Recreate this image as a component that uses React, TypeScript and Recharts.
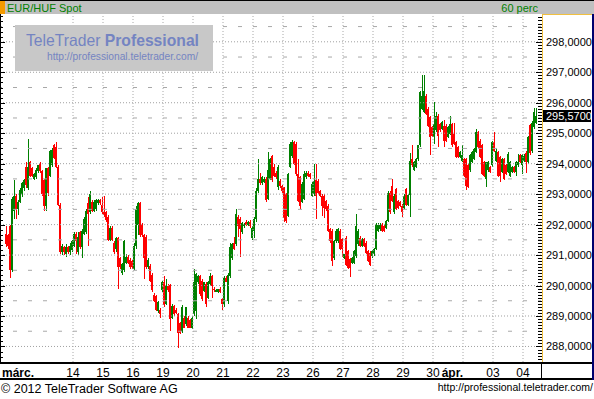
import React from 'react';
import { ComposedChart, Bar, XAxis, YAxis, ReferenceLine } from 'recharts';

// ---------- data (EUR/HUF Spot, 60 perc candles) ----------
const opens = [
  291.70, 291.65, 291.95, 290.50, 292.45, 292.95, 292.50, 292.75, 293.00, 293.20,
  293.90, 293.20, 294.05, 293.85, 293.50, 293.55, 293.75, 294.00, 293.75, 293.45,
  292.60, 293.85, 293.60, 293.95, 294.60, 294.55, 293.90, 292.65, 291.10, 291.25,
  291.05, 291.25, 291.10, 291.15, 291.31, 291.69, 291.10, 291.75, 291.25, 291.70,
  291.75, 292.70, 292.40, 292.75, 292.45, 292.50, 292.70, 292.80, 292.65, 292.40,
  292.40, 292.25, 291.50, 291.90, 291.40, 291.20, 291.55, 290.90, 290.40, 290.50,
  290.75, 290.95, 290.85, 290.80, 290.55, 291.30, 292.00, 292.72, 292.00, 291.65,
  291.60, 290.60, 290.65, 290.35, 289.70, 289.65, 289.17, 289.20, 289.85, 290.10,
  289.40, 289.99, 290.02, 288.95, 289.33, 289.20, 289.06, 288.78, 288.51, 288.95,
  288.73, 288.95, 288.87, 288.62, 289.06, 289.17, 290.10, 290.30, 290.15, 289.82,
  290.05, 289.60, 290.05, 290.30, 289.90, 289.80, 289.80, 289.88, 289.55, 289.40,
  290.25, 289.50, 290.30, 290.90, 291.40, 291.35, 292.25, 292.20, 291.75, 291.95,
  292.10, 292.00, 292.10, 291.55, 291.80, 292.20, 293.10, 293.50, 293.35, 293.40,
  293.50, 292.85, 293.50, 294.25, 293.88, 293.70, 293.22, 293.44, 293.27, 293.22,
  293.00, 292.29, 293.88, 294.26, 294.70, 294.65, 293.66, 293.55, 292.73, 292.84,
  293.55, 293.71, 293.66, 292.95, 293.00, 293.45, 293.44, 293.11, 292.95, 292.95,
  292.78, 292.62, 291.85, 291.79, 290.91, 291.46, 291.46, 291.79, 291.52, 290.91,
  291.57, 291.13, 290.86, 290.75, 290.75, 290.97, 291.35, 291.57, 291.30, 291.52,
  291.41, 291.13, 291.08, 290.97, 291.02, 291.19, 291.79, 291.85, 292.00, 291.96,
  291.90, 292.12, 293.05, 293.27, 292.40, 293.16, 292.78, 292.73, 292.62, 292.56,
  293.17, 292.65, 292.96, 294.16, 293.78, 293.90, 294.16, 294.60, 295.80, 295.70,
  296.23, 295.80, 295.52, 295.20, 294.87, 295.09, 295.58, 295.31, 295.14, 295.25,
  295.25, 294.87, 294.98, 295.31, 294.98, 294.70, 294.54, 294.21, 294.10, 294.16,
  294.16, 293.94, 293.78, 294.05, 294.16, 294.38, 295.03, 294.76, 294.60, 294.05,
  293.50, 293.78, 293.89, 293.94, 294.70, 294.10, 294.38, 294.21, 293.72, 294.16,
  293.94, 293.72, 293.61, 293.72, 293.89, 293.72, 293.94, 294.27, 293.94, 294.10,
  294.34, 294.05, 295.26, 294.40, 295.20, 295.33,
];

const highs = [
  291.95, 291.70, 292.00, 292.90, 293.45, 293.00, 292.80, 293.20, 293.40, 293.50,
  294.05, 294.80, 294.10, 293.90, 293.70, 293.85, 293.95, 294.05, 293.80, 293.50,
  293.85, 293.90, 294.45, 294.50, 294.65, 294.70, 293.95, 292.70, 291.35, 291.30,
  291.35, 291.30, 291.40, 291.50, 291.75, 291.75, 291.75, 291.80, 291.85, 292.25,
  292.50, 292.90, 293.10, 292.80, 292.80, 292.85, 292.85, 292.85, 292.90, 292.95,
  292.45, 292.30, 291.95, 291.95, 291.45, 291.60, 291.60, 290.95, 290.75, 291.50,
  291.05, 291.00, 290.90, 290.85, 291.40, 292.60, 292.75, 292.75, 292.05, 291.70,
  291.65, 290.90, 290.70, 290.40, 289.75, 289.70, 289.50, 289.25, 290.15, 290.30,
  290.20, 290.05, 290.05, 289.40, 289.35, 289.25, 289.10, 288.80, 289.35, 289.00,
  289.30, 289.00, 288.90, 289.00, 290.54, 290.40, 290.35, 290.35, 290.20, 290.12,
  290.10, 290.15, 290.40, 290.35, 289.95, 289.90, 289.90, 289.95, 289.60, 290.30,
  290.30, 290.40, 291.40, 291.40, 291.60, 292.50, 292.30, 292.25, 292.10, 292.05,
  292.15, 292.12, 292.15, 291.95, 292.25, 293.20, 294.15, 293.71, 293.60, 293.55,
  293.55, 294.37, 294.20, 294.30, 294.00, 293.75, 293.95, 293.50, 293.30, 293.25,
  293.05, 293.70, 294.70, 294.78, 294.75, 294.70, 294.15, 293.60, 293.40, 293.77,
  293.75, 293.75, 293.70, 293.40, 294.00, 293.99, 293.50, 293.15, 293.00, 293.00,
  292.82, 292.66, 291.90, 291.85, 291.50, 291.85, 291.90, 291.85, 291.56, 291.05,
  291.62, 291.18, 290.90, 290.95, 291.18, 292.34, 291.85, 291.62, 291.56, 291.56,
  291.45, 291.17, 291.12, 291.17, 291.23, 292.04, 292.04, 292.04, 292.04, 292.00,
  292.16, 293.09, 293.09, 293.50, 292.99, 293.20, 292.82, 292.77, 292.66, 292.99,
  293.20, 293.00, 294.36, 294.60, 294.10, 294.20, 294.62, 296.40, 296.92, 296.90,
  296.30, 295.85, 295.55, 295.25, 296.02, 295.69, 295.62, 295.35, 295.40, 295.42,
  295.30, 295.25, 295.58, 295.35, 295.34, 294.74, 294.58, 294.42, 294.60, 294.20,
  294.20, 293.98, 294.31, 294.42, 294.53, 295.14, 295.07, 294.80, 294.64, 294.09,
  294.05, 294.09, 293.93, 294.76, 295.03, 294.47, 294.42, 294.25, 294.20, 294.20,
  293.98, 294.38, 294.09, 293.93, 293.93, 294.09, 294.32, 294.31, 294.32, 294.32,
  294.40, 294.90, 295.30, 295.40, 295.82, 295.82,
];

const lows = [
  291.25, 291.20, 290.25, 290.45, 292.20, 292.20, 292.30, 292.70, 292.90, 293.10,
  293.20, 293.15, 293.55, 293.55, 293.45, 293.50, 293.70, 293.70, 292.95, 292.45,
  292.45, 292.95, 293.55, 293.90, 294.15, 293.85, 292.60, 291.05, 291.00, 291.00,
  290.95, 291.05, 291.00, 291.10, 291.25, 291.05, 291.00, 291.20, 290.90, 291.65,
  291.70, 291.30, 292.35, 292.40, 292.40, 292.45, 292.65, 292.65, 292.35, 292.25,
  292.10, 291.45, 291.45, 291.45, 291.05, 291.10, 289.90, 290.55, 290.35, 290.45,
  290.70, 290.70, 290.55, 290.55, 290.50, 291.20, 291.65, 291.60, 291.60, 290.20,
  290.55, 290.55, 290.10, 289.80, 289.45, 289.15, 289.10, 288.95, 289.80, 289.30,
  289.35, 289.80, 288.51, 288.90, 289.00, 289.05, 287.96, 288.40, 288.45, 288.60,
  288.68, 288.60, 288.60, 288.58, 289.00, 288.90, 290.05, 289.65, 289.50, 289.78,
  289.30, 289.55, 290.00, 289.60, 289.80, 289.78, 289.75, 289.75, 289.20, 289.30,
  290.10, 289.40, 290.25, 290.85, 291.15, 291.30, 291.60, 290.95, 291.70, 291.90,
  291.95, 291.95, 291.90, 291.50, 291.55, 292.10, 293.05, 293.30, 293.30, 293.35,
  292.75, 292.80, 293.45, 293.40, 293.55, 293.50, 293.15, 293.20, 293.05, 292.07,
  292.05, 292.25, 293.85, 294.20, 293.95, 293.60, 292.75, 292.51, 292.70, 292.80,
  293.50, 293.55, 293.50, 292.90, 292.95, 292.18, 293.00, 292.90, 292.29, 292.23,
  292.45, 291.75, 291.40, 290.64, 290.85, 291.40, 291.40, 291.15, 290.95, 290.88,
  290.65, 290.55, 290.27, 290.70, 290.70, 290.92, 291.30, 291.25, 291.25, 291.25,
  291.04, 290.76, 290.65, 290.92, 290.98, 291.15, 291.75, 291.80, 291.75, 291.75,
  291.86, 292.08, 292.36, 292.74, 292.36, 292.47, 292.52, 292.58, 292.24, 292.52,
  292.60, 292.60, 292.25, 293.90, 293.75, 293.85, 294.10, 294.55, 295.75, 295.65,
  295.60, 295.22, 294.27, 294.88, 294.65, 295.05, 294.54, 295.05, 295.10, 294.54,
  294.70, 294.83, 294.94, 294.56, 294.60, 294.17, 294.17, 294.17, 294.05, 293.57,
  293.12, 293.19, 293.74, 294.01, 294.12, 294.34, 294.50, 294.17, 293.63, 293.57,
  293.23, 293.74, 293.68, 293.90, 294.39, 294.06, 293.57, 293.40, 293.68, 293.46,
  293.63, 293.68, 293.57, 293.68, 293.68, 293.61, 293.90, 294.01, 293.67, 294.05,
  293.70, 294.00, 294.30, 294.35, 295.15, 295.30,
];

const closes = [
  291.35, 291.30, 290.50, 292.85, 292.95, 292.50, 292.75, 293.15, 293.35, 293.45,
  293.30, 293.90, 293.60, 293.60, 293.65, 293.80, 293.95, 293.75, 293.00, 292.60,
  293.85, 293.05, 294.40, 294.45, 294.20, 293.90, 292.65, 291.10, 291.30, 291.10,
  291.25, 291.10, 291.30, 291.45, 291.69, 291.47, 291.60, 291.25, 291.80, 292.20,
  292.45, 292.35, 293.00, 292.45, 292.75, 292.80, 292.80, 292.70, 292.40, 292.30,
  292.15, 291.50, 291.90, 291.50, 291.10, 291.55, 290.60, 290.60, 290.70, 291.45,
  290.95, 290.75, 290.60, 290.60, 291.30, 292.50, 292.70, 291.65, 291.65, 290.90,
  290.60, 290.85, 290.15, 289.85, 289.50, 289.20, 289.45, 289.05, 290.10, 289.35,
  289.98, 289.85, 288.91, 289.33, 289.06, 289.10, 288.45, 288.45, 289.30, 288.62,
  289.28, 288.62, 288.62, 288.95, 290.10, 290.37, 290.30, 289.71, 289.55, 290.10,
  289.40, 290.10, 290.30, 289.98, 289.85, 289.86, 289.88, 289.78, 289.40, 290.25,
  290.12, 290.35, 291.25, 291.35, 291.20, 292.35, 291.95, 291.85, 292.05, 292.03,
  292.00, 292.10, 291.95, 291.90, 292.20, 293.10, 293.50, 293.35, 293.55, 293.50,
  292.80, 293.80, 294.15, 293.45, 293.60, 293.55, 293.88, 293.27, 293.11, 292.23,
  292.12, 293.66, 294.65, 294.70, 293.99, 293.66, 292.78, 292.62, 293.33, 293.66,
  293.71, 293.60, 293.55, 293.33, 293.44, 292.95, 293.05, 292.95, 292.62, 292.56,
  292.51, 291.79, 291.46, 290.80, 291.46, 291.79, 291.85, 291.19, 291.19, 291.02,
  290.69, 290.58, 290.58, 290.91, 291.13, 291.96, 291.79, 291.30, 291.52, 291.30,
  291.08, 290.80, 290.69, 291.13, 291.19, 292.00, 292.00, 292.00, 291.79, 291.79,
  292.12, 293.05, 292.40, 292.78, 292.95, 292.51, 292.56, 292.62, 292.40, 292.95,
  292.65, 292.96, 294.10, 293.94, 294.05, 294.16, 294.60, 296.34, 296.23, 296.40,
  295.63, 295.25, 294.87, 294.92, 295.31, 295.58, 294.92, 295.09, 295.36, 294.76,
  294.76, 295.20, 295.31, 294.60, 294.65, 294.21, 294.21, 294.38, 294.27, 293.61,
  293.28, 293.23, 294.27, 294.38, 294.49, 295.03, 294.54, 294.21, 293.67, 293.61,
  294.05, 294.05, 293.72, 294.70, 294.43, 294.43, 293.61, 293.61, 294.16, 293.50,
  293.67, 294.32, 294.05, 293.89, 293.72, 294.05, 294.05, 294.05, 294.28, 294.25,
  294.05, 294.87, 294.34, 295.33, 295.69, 295.57,
];

const dayLabels = ['márc.', '14', '15', '16', '19', '20', '21', '22', '23', '26', '27', '28', '29', '30', 'ápr.', '03', '04'];
const priceTicks = [288, 289, 290, 291, 292, 293, 294, 295, 296, 297, 298];
const instrumentTitle = 'EUR/HUF Spot';
const periodTitle = '60 perc';

// ---------- layout constants ----------
const W = 594;
const H = 399;
const Y_MIN = 287.49;
const Y_MAX = 298.88;
const BARS_PER_DAY = 15;
const FIRST_DAY_START = 34;
const GREEN = '#008000';
const RED = '#ff0000';
const FONT = '"Liberation Sans", Arial, sans-serif';

const rows = closes.map((c, i) => ({ i, open: opens[i], high: highs[i], low: lows[i], close: c }));
const lastClose = closes[closes.length - 1];

const dayStarts = dayLabels.slice(1).map((_, k) => FIRST_DAY_START + k * BARS_PER_DAY);
const labelByIndex = new Map<number, string>();
labelByIndex.set(0, dayLabels[0]);
dayStarts.forEach((s, k) => labelByIndex.set(s, dayLabels[k + 1]));
const xTicks = [0, ...dayStarts];

const rightMinor: number[] = [];
for (let k = Math.ceil(Y_MIN * 10); k <= Math.floor(Y_MAX * 10); k++) rightMinor.push(k / 10);
const leftMinor: number[] = [];
for (let m = 0; 287.5 + m / 6 <= Y_MAX; m++) leftMinor.push(287.5 + m / 6);
const halfLines = priceTicks.map((p) => p + 0.5).filter((v) => v < Y_MAX);

function Candle(props: any) {
  const { x, y, width, height, payload } = props;
  if (x == null || y == null || !payload) return null;
  const top = Math.min(y, y + height);
  const h = Math.abs(height);
  const range = payload.high - payload.low;
  const k = range > 0 ? h / range : 0;
  const yO = top + (payload.high - payload.open) * k;
  const yC = top + (payload.high - payload.close) * k;
  const color = payload.close >= payload.open ? GREEN : RED;
  const bodyTop = Math.min(yO, yC);
  const bodyH = Math.max(1, Math.abs(yO - yC));
  const wx = Math.floor(x + width / 2);
  return (
    <g shapeRendering="crispEdges">
      <rect x={wx} y={top} width={1} height={Math.max(1, h)} fill={color} />
      <rect x={x} y={bodyTop} width={width} height={bodyH} fill={color} />
    </g>
  );
}

function XTick(props: any) {
  const { x, y, payload } = props;
  const label = labelByIndex.get(payload.value);
  if (!label) return null;
  const isMonth = label.endsWith('.');
  let tx = x - 1;
  let anchor: any = 'middle';
  if (payload.value === 0) {
    tx = x - 4;
    anchor = 'start';
  } else if (isMonth) {
    tx = x - 1;
    anchor = 'end';
  }
  return (
    <text x={tx} y={y + 15} textAnchor={anchor} fontFamily={FONT} fontSize={12}
      fontWeight={isMonth ? 'bold' : 'normal'} fill="#000">
      {label}
    </text>
  );
}

function RightTick(props: any) {
  const { x, y, payload } = props;
  const v = payload.value as number;
  const major = Math.round(v * 10) % 10 === 0;
  const yy = Math.round(y) + 0.5;
  return (
    <g>
      <line x1={x - (major ? 5 : 3)} x2={x + 1} y1={yy} y2={yy} stroke="#000" strokeWidth={1} />
      {major && (
        <text x={x + 5} y={y + 4} fontFamily={FONT} fontSize={11} fill="#000">
          {v.toFixed(4).replace('.', ',')}
        </text>
      )}
    </g>
  );
}

function LeftTick(props: any) {
  const { y, payload } = props;
  const v = payload.value as number;
  const major = Math.abs(v - Math.round(v)) < 1e-6;
  const yy = Math.round(y) + 0.5;
  return <line x1={0} x2={major ? 5 : 3} y1={yy} y2={yy} stroke="#000" strokeWidth={1} />;
}

function PriceTag(props: any) {
  const vb = props.viewBox || {};
  const right = (vb.x || 0) + (vb.width || 0);
  const cy = vb.y || 0;
  return (
    <g>
      <rect x={right + 2} y={Math.round(cy) - 6} width={48} height={12} fill="#000" />
      <text x={right + 5} y={cy + 4} fontFamily={FONT} fontSize={11} fill="#fff">
        {lastClose.toFixed(4).replace('.', ',')}
      </text>
    </g>
  );
}

export default function App() {
  return (
    <div style={{ position: 'absolute', left: 0, top: 0, width: W, height: H, background: '#fff', overflow: 'hidden' }}>
      <ComposedChart width={W} height={H} data={rows}
        margin={{ top: 15, right: 2, bottom: 20, left: 0 }}
        barCategoryGap={0} barGap={0}>
        <XAxis dataKey="i" type="category" ticks={xTicks} interval={0} tick={<XTick />}
          tickLine={false} axisLine={false} tickSize={0} tickMargin={0} height={17}
          padding={{ left: 4, right: 4 }} />
        <YAxis yAxisId="l" orientation="left" width={1} domain={[Y_MIN, Y_MAX]} allowDataOverflow
          ticks={leftMinor} interval={0} tick={<LeftTick />} tickLine={false} axisLine={false}
          tickSize={0} tickMargin={0} />
        <YAxis yAxisId="p" orientation="right" width={51} domain={[Y_MIN, Y_MAX]} allowDataOverflow
          ticks={rightMinor} interval={0} tick={<RightTick />} tickLine={false} axisLine={false}
          tickSize={0} tickMargin={0} />
        {priceTicks.map((p) => (
          <ReferenceLine key={'g' + p} yAxisId="p" y={p} stroke="#a0a0a0" strokeDasharray="1 2" />
        ))}
        {halfLines.map((p) => (
          <ReferenceLine key={'h' + p} yAxisId="p" y={p} stroke="#a8a8a8" strokeDasharray="4 11" strokeDashoffset={1} />
        ))}
        {dayStarts.map((s) => (
          <ReferenceLine key={'v' + s} yAxisId="p" x={s} position="start" stroke="#a8a8a8" strokeDasharray="1 2" />
        ))}
        <Bar yAxisId="p" dataKey={(d: any) => [d.low, d.high]} isAnimationActive={false} shape={Candle} />
        <ReferenceLine yAxisId="p" y={lastClose} stroke="none" label={<PriceTag />} ifOverflow="visible" />
      </ComposedChart>

      <svg width={W} height={H} style={{ position: 'absolute', left: 0, top: 0, pointerEvents: 'none' }}>
        {/* top title bar */}
        <rect x={0} y={0} width={W} height={14} fill="#c0c0c0" />
        <rect x={0} y={0} width={W} height={1} fill="#000" />
        <rect x={0} y={1} width={5} height={13} fill="#f39a00" />
        <text x={7} y={11.5} fontFamily={FONT} fontSize={11} fill={GREEN}>{instrumentTitle}</text>
        <text x={538} y={11.5} textAnchor="end" fontFamily={FONT} fontSize={11} fill={GREEN}>{periodTitle}</text>

        {/* watermark */}
        <rect x={15} y={25} width={198} height={46} fill="#c8c8c8" />
        <text x={26} y={46} fontFamily={FONT} fontSize={16.5} fill="#7484c2" textLength={173} lengthAdjust="spacingAndGlyphs">
          TeleTrader <tspan fontWeight="bold">Professional</tspan>
        </text>
        <text x={47} y={60} fontFamily={FONT} fontSize={10.5} fill="#7484c2" textLength={151} lengthAdjust="spacingAndGlyphs">
          http://professional.teletrader.com/
        </text>

        {/* frame */}
        <rect x={0} y={14} width={1} height={348} fill="#000" />
        <rect x={542} y={14} width={1} height={348} fill="#f0c040" />
        <rect x={542} y={14} width={50} height={1} fill="#f0c040" />
        <rect x={592} y={14} width={2} height={366} fill="#00006e" />
        <rect x={0} y={362} width={592} height={2} fill="#000" />
        <rect x={0} y={378} width={592} height={2} fill="#000" />
        <rect x={541} y={362} width={1} height={17} fill="#000" />

        {/* footer */}
        <text x={1} y={393} fontFamily={FONT} fontSize={12.5} fill="#000">© 2012 TeleTrader Software AG</text>
        <text x={593} y={391} textAnchor="end" fontFamily={FONT} fontSize={10.5} fill="#000">http://professional.teletrader.com/</text>
      </svg>
    </div>
  );
}
